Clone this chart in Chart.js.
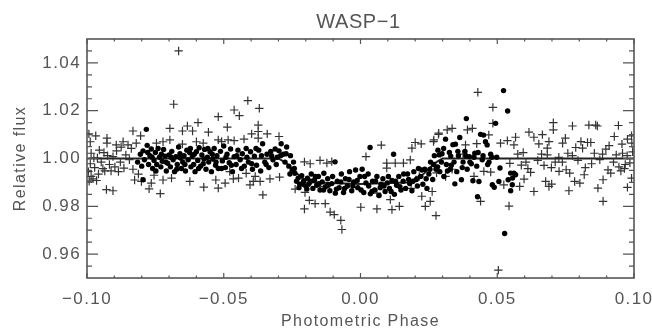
<!DOCTYPE html>
<html>
<head>
<meta charset="utf-8">
<title>WASP-1</title>
<script src="https://cdn.jsdelivr.net/npm/chart.js@4"></script>
<style>
  html, body { margin: 0; padding: 0; background: #fff; overflow: hidden; }
  #wrap { width: 652px; height: 331px; }
  canvas { filter: blur(0.5px); }
</style>
</head>
<body>
<div id="wrap"><canvas id="lightCurve" width="652" height="331"></canvas></div>
<script>
// transit model line
const modelX = [-0.10, -0.05, -0.03, -0.027, -0.024, -0.021, -0.017, 0.00, 0.017, 0.021, 0.024, 0.027, 0.03, 0.05, 0.10];
const modelY = [1.000, 1.000, 1.000, 0.998, 0.9945, 0.9915, 0.990, 0.9893, 0.990, 0.9915, 0.9945, 0.998, 1.000, 1.000, 1.000];

// plus markers, [phase, flux]
const plusPoints = [
  [-0.0665,1.045],[-0.0683,1.0227],[-0.052,1.0175],[-0.0993,1.0103],[-0.0968,1.0095],[-0.0988,1.007],[-0.0927,1.0085],[-0.0927,1.0064],
  [-0.0893,1.0057],[-0.0868,1.007],[-0.085,1.0057],[-0.082,1.0064],[-0.0832,1.0115],[-0.0804,1.0095],[-0.0697,1.0126],[-0.0697,1.0078],
  [-0.0651,1.0115],[-0.0633,1.0136],[-0.0614,1.0115],[-0.0594,1.015],[-0.0556,1.011],[-0.06,1.007],[-0.0575,1.0064],[-0.0651,1.006],
  [-0.0746,1.0064],[-0.0722,1.007],[-0.052,1.0078],[-0.0929,0.987],[-0.0905,0.9865],[-0.0732,0.9853],[-0.0573,0.988],[-0.052,0.9876],
  [-0.0773,0.9873],[-0.0765,0.9897],[-0.0826,0.991],[-0.0801,0.9904],[-0.0624,0.9904],[-0.0529,0.991],[-0.0691,0.9918],[-0.0722,0.991],
  [-0.0992,0.9905],[-0.0985,0.9925],[-0.0995,0.9945],[-0.0978,0.9915],[-0.0965,0.9908],[-0.0958,0.9935],[-0.0972,0.9962],[-0.0988,0.9978],
  [-0.0962,1.0002],[-0.0948,0.9985],[-0.0955,1.0035],[-0.0938,1.0025],[-0.0942,0.9958],[-0.0925,1.0012],[-0.0918,0.9975],[-0.0912,0.9948],
  [-0.0905,1.0008],[-0.0898,0.9965],[-0.0885,0.9945],[-0.0878,0.9985],[-0.0865,0.996],[-0.0858,1.0015],[-0.0845,0.9995],[-0.0832,0.9955],
  [-0.0985,1.0022],[-0.0975,1.0002],[-0.0935,0.9948],[-0.0892,1.0032],[-0.0875,1.0048],[-0.0838,1.0042],[-0.0812,0.9935],[-0.0755,0.993],
  [-0.0412,1.0242],[-0.0462,1.0203],[-0.0443,1.0179],[-0.037,1.021],[-0.0487,1.0131],[-0.0374,1.014],[-0.0398,1.0103],[-0.0374,1.0113],
  [-0.0341,1.0103],[-0.0374,1.0085],[-0.0298,1.0092],[-0.0426,1.0081],[-0.0462,1.0075],[-0.0484,1.0078],[-0.0508,1.0071],[-0.0357,0.9848],
  [-0.0296,0.9922],[-0.0331,0.9915],[-0.0367,0.9904],[-0.0392,0.9904],[-0.0404,0.989],[-0.0446,0.9918],[-0.0465,0.9915],[-0.0495,0.9897],
  [-0.0205,0.9789],[-0.0187,0.9825],[-0.0166,0.9811],[-0.0129,0.9811],[-0.0111,0.9776],[-0.0096,0.9765],[-0.0072,0.9741],[-0.0068,0.9703],
  [0.0001,0.9796],[0.006,0.9789],[0.0115,0.9786],[0.0142,0.98],[0.0224,0.9842],[0.0237,0.98],[0.0255,0.9821],[0.0276,0.9761],
  [0.0076,1.0056],[0.002,1.0008],[-0.0148,0.9992],[-0.0205,0.9986],[-0.0184,0.9978],[-0.0123,0.9981],[-0.0105,0.9987],[0.0096,0.9981],
  [0.0096,0.996],[0.0127,0.9981],[0.0188,1.0043],[0.02,1.0067],[0.0222,1.0061],[0.0267,1.0071],[0.0285,1.0101],[0.0182,0.9994],
  [0.0157,0.9981],[-0.0203,0.9858],[-0.0199,0.9883],[-0.0239,0.9872],[-0.0148,0.9883],[0.0109,0.9828],[0.006,0.9855],[0.0185,0.9875],
  [0.0429,1.0277],[0.0484,1.0214],[0.0484,1.0147],[0.0504,0.9533],[0.0439,0.9821],[0.0543,0.9801],[0.0705,1.015],[0.0705,1.012],
  [0.0775,1.0136],[0.0835,1.014],[0.086,1.014],[0.0866,1.0136],[0.0943,1.0138],[0.0616,1.011],[0.0634,1.0089],[0.0665,1.01],
  [0.0652,1.0061],[0.0689,1.0071],[0.0683,1.0043],[0.0683,1.0015],[0.0749,1.0085],[0.0739,1.0064],[0.0787,1.0046],[0.0806,1.0071],
  [0.083,1.0067],[0.0842,1.0067],[0.0812,1.0043],[0.0855,1.0022],[0.0897,1.0039],[0.0909,1.0054],[0.0928,1.0092],[0.0956,1.006],
  [0.0976,1.0081],[0.0991,1.0095],[0.0992,1.0064],[0.0958,1.0022],[0.0634,0.9862],[0.0677,0.9904],[0.0689,0.9883],[0.0699,0.9893],
  [0.0762,0.9865],[0.0783,0.9904],[0.0802,0.9897],[0.0868,0.9876],[0.0887,0.9821],[0.0887,0.9911],[0.0915,0.9939],[0.0976,0.9879],
  [0.0991,0.9918],[0.0818,0.9932],[0.0752,0.9953],[0.0765,0.9939],[0.0726,0.9946],[0.0671,0.9971],[0.0622,0.9942],[0.0598,0.9914],
  [0.0582,0.9883],[0.0524,0.989],[0.0546,0.998],[0.0567,1.0089],[0.0537,1.0075],[0.0561,1.0057],[0.0512,1.0064],[0.0469,1.0099],
  [0.0409,1.0126],[0.0391,1.012],[0.0384,1.0057],[0.0335,1.0126],[0.0317,1.012],[0.0286,1.0106],[0.0268,1.0078],[0.0451,0.9946],
  [0.0476,0.9943],[0.0415,0.9925],[0.0311,0.9925],[0.0262,0.9862],[0.0595,1.0025],[0.0605,0.9985],[0.0648,0.9992],[0.0725,1.0005],
  [0.0738,0.9985],[0.0775,1.0012],[0.0795,0.9992],[0.0845,0.9978],[0.0875,0.9995],[0.0925,0.9985],[0.0945,0.9965],[0.0968,0.9975],
  [0.0985,0.9982],[0.0935,1.0015],[0.0885,1.0018],[0.0335,0.9955],[0.0375,1.0018],[0.0425,1.0062],[0.0278,0.994],[0.0215,0.9925],
  [0.0575,1.0018],[0.0588,0.9972],[0.0612,0.9958],[0.0662,1.0018],[0.0698,0.9962],[0.0712,0.9985],[0.0758,1.0022],[0.0822,0.9962],
  [0.0905,0.9952],[0.0952,0.9948],[0.0965,0.9958],[0.0975,1.0012],[0.0995,1.0028],[-0.0478,0.9945],[-0.0418,0.9938],[-0.0385,0.9925]
];

// filled circles, [phase, flux]
const dotPoints = [
  [-0.0783,1.0122],[-0.0795,0.9911],[-0.0815,0.9985],[-0.0805,1.0018],[-0.08,0.9968],[-0.0795,1.0032],[-0.079,0.9995],[-0.078,1.0055],
  [-0.0775,0.9975],[-0.077,1.0012],[-0.0765,1.004],[-0.076,0.9958],[-0.0755,0.9992],[-0.075,1.0025],[-0.0745,0.9975],[-0.074,1.0042],
  [-0.0735,1.0005],[-0.073,0.9965],[-0.0725,0.9988],[-0.072,1.0038],[-0.0715,1.001],[-0.071,0.9948],[-0.0705,0.998],[-0.07,1.0015],
  [-0.0695,0.9965],[-0.069,1.003],[-0.0685,0.9995],[-0.068,0.9945],[-0.0675,1.0008],[-0.067,0.9975],[-0.0665,1.0048],[-0.066,1.002],
  [-0.0655,0.9958],[-0.065,0.9985],[-0.0645,1.0012],[-0.064,0.9948],[-0.0635,1.0035],[-0.063,0.9995],[-0.0625,1.0025],[-0.062,0.9965],
  [-0.0615,1.001],[-0.061,0.9975],[-0.0605,0.9945],[-0.06,1.0028],[-0.0595,0.9992],[-0.059,1.0045],[-0.0585,0.9968],[-0.058,1.0015],
  [-0.0575,0.9978],[-0.057,1.0038],[-0.0565,0.9955],[-0.056,1.0005],[-0.0555,0.9985],[-0.055,1.0028],[-0.0545,0.9945],[-0.054,0.9998],
  [-0.0535,1.0042],[-0.053,0.9972],[-0.0525,1.0012],[-0.052,0.9958],[-0.0512,1.003],[-0.0505,0.999],[-0.05,1.0052],[-0.0494,0.9962],
  [-0.0488,1.0018],[-0.048,0.9982],[-0.0475,1.004],[-0.0468,0.9945],[-0.0462,1.0008],[-0.0455,0.9975],[-0.0448,1.0035],[-0.044,0.9995],
  [-0.0432,1.002],[-0.0425,0.9968],[-0.0418,1.0042],[-0.041,0.9985],[-0.0402,1.0028],[-0.0395,0.9955],[-0.0388,1.001],[-0.038,0.9972],
  [-0.0372,1.0035],[-0.0365,0.9948],[-0.0358,1.0062],[-0.035,0.9985],[-0.0342,1.0018],[-0.0335,0.9962],[-0.0328,1.003],[-0.032,0.9995],
  [-0.0312,1.004],[-0.0305,1.0005],[-0.0298,1.0032],[-0.029,1.0062],[-0.0282,1.0018],[-0.0276,0.9985],[-0.027,1.0048],[-0.0262,0.9968],
  [-0.0256,1.0012],[-0.025,0.9952],[-0.0245,0.9985],[-0.024,0.9938],[-0.0234,0.9905],[-0.0228,0.9918],[-0.0222,0.9892],[-0.0215,0.9928],
  [-0.0208,0.9905],[-0.02,0.9885],[-0.0194,0.9918],[-0.0188,0.9895],[-0.018,0.9935],[-0.0174,0.9875],[-0.0168,0.991],[-0.016,0.9888],
  [-0.0154,0.9925],[-0.0148,0.9868],[-0.014,0.9902],[-0.0134,0.9938],[-0.0128,0.9882],[-0.012,0.9915],[-0.0112,0.9865],[-0.0105,0.9895],
  [-0.0093,0.9986],[-0.0092,0.9855],[-0.0085,0.9905],[-0.0078,0.9878],[-0.007,0.9935],[-0.0062,0.9858],[-0.0055,0.9915],[-0.0048,0.9885],
  [-0.004,0.9945],[-0.0032,0.9865],[-0.0025,0.9902],[-0.0018,0.9952],[-0.001,0.9878],[-0.0002,0.9925],[0.0006,0.9955],[0.0012,0.9858],
  [0.002,0.9898],[0.0028,0.9935],[0.0035,1.0046],[0.0036,0.9852],[0.0044,0.9905],[0.0052,0.9868],[0.006,0.9925],[0.0068,0.9845],
  [0.0075,0.9892],[0.0082,0.9915],[0.009,0.9862],[0.0098,0.9898],[0.0106,0.9875],[0.0121,1.0018],[0.0115,0.9908],[0.0124,0.985],
  [0.0132,0.9888],[0.014,0.9925],[0.0148,0.9868],[0.0156,0.9905],[0.0165,0.9875],[0.0172,0.9935],[0.018,0.9895],[0.0188,0.9865],
  [0.0195,0.9945],[0.0204,0.9912],[0.0212,0.9958],[0.022,0.9925],[0.0228,0.9892],[0.0235,0.9955],[0.0243,0.9875],[0.025,0.9935],
  [0.0256,0.9985],[0.0264,0.9912],[0.027,1.0012],[0.0276,0.9955],[0.0283,1.0035],[0.029,0.9945],[0.0296,0.9985],[0.0304,1.0042],
  [0.0311,1.0081],[0.0318,0.9948],[0.0325,1.0025],[0.0332,0.9972],[0.0338,1.0058],[0.0347,1.006],[0.0345,0.9894],[0.0352,0.9945],
  [0.0358,1.0012],[0.0363,1.0088],[0.0369,0.9911],[0.0375,0.9985],[0.0382,1.003],[0.0387,1.0167],[0.039,0.9955],[0.0398,1.0008],
  [0.0405,0.9978],[0.0411,0.9907],[0.0418,1.0022],[0.0425,0.9968],[0.0428,0.984],[0.0433,0.9904],[0.0439,1.0101],[0.0445,0.9995],
  [0.045,1.0098],[0.0457,1.007],[0.0463,1.0057],[0.047,0.9985],[0.0476,1.0018],[0.0482,0.989],[0.0489,0.988],[0.0494,1.0147],
  [0.0498,1.0005],[0.0506,0.9904],[0.051,0.996],[0.0523,1.0284],[0.0527,0.9686],[0.0538,1.0199],[0.054,0.9911],[0.0549,0.9865],
  [0.0549,0.9939],[0.0555,0.989],[0.0561,0.9938],[0.0567,0.9932],[0.0556,0.9918],[0.0305,0.9925],[0.0328,0.9955],[0.0288,1.0015],
  [-0.0778,1.0025],[-0.0762,1.0005],[-0.0748,0.9948],[-0.0728,1.0018],[-0.0712,0.9985],[-0.0692,1.0005],[-0.0672,0.9955],[-0.0658,1.0002],
  [-0.0642,0.9975],[-0.0622,1.0042],[-0.0608,1.0018],[-0.0592,0.9958],[-0.0572,0.9998],[-0.0558,1.0042],[-0.0542,1.0018],[-0.0528,0.9985],
  [-0.0508,0.9958],[-0.0492,1.0005],[-0.0472,0.9972],[-0.0452,1.0012],[-0.0435,0.9958],[-0.0415,1.0005],[-0.0398,0.9978],[-0.0382,1.0042],
  [-0.0362,1.0012],[-0.0345,0.9975],[-0.0325,1.0012],[-0.0308,0.9975],[-0.0292,1.0012],[-0.0272,1.002],[-0.0258,0.9935],[-0.0242,0.9958],
  [-0.0225,0.9878],[-0.0212,0.9895],[-0.0196,0.9872],[-0.0182,0.9905],[-0.0165,0.9925],[-0.0152,0.9895],[-0.0135,0.9868],[-0.0118,0.9888],
  [-0.0102,0.9925],[-0.0088,0.9872],[-0.0072,0.9902],[-0.0058,0.9875],[-0.0042,0.9912],[-0.0028,0.9885],[-0.0012,0.9908],[0.0002,0.9868],
  [0.0015,0.9925],[0.003,0.9885],[0.0042,0.9862],[0.0055,0.9905],[0.0072,0.9878],[0.0086,0.9885],[0.0102,0.9925],[0.0112,0.9862],
  [0.0128,0.9905],[0.0144,0.9882],[0.0158,0.9935],[0.0176,0.9912],[0.0192,0.9905],[0.0208,0.9885],[0.0224,0.9952],[0.024,0.9915],
  [0.0254,0.9955],[0.0268,0.9975],[0.0282,0.9965],[0.0298,1.002],[0.0314,0.9975],[0.033,1.001],[0.0342,0.9985],[0.0356,1.003],
  [0.0372,0.9962],[0.0385,1.0012],[0.04,0.9985],[0.0415,1.0005],[0.043,1.0025],[0.0448,1.0012],[0.0465,0.9975],[0.048,1.0005]
];

const xMajor = [-0.10, -0.05, 0.00, 0.05, 0.10];
const xMinor = [-0.09, -0.08, -0.07, -0.06, -0.04, -0.03, -0.02, -0.01, 0.01, 0.02, 0.03, 0.04, 0.06, 0.07, 0.08, 0.09];
const yMajor = [0.96, 0.98, 1.00, 1.02, 1.04];
const yMinor = [0.955, 0.965, 0.97, 0.975, 0.985, 0.99, 0.995, 1.005, 1.01, 1.015, 1.025, 1.03, 1.035, 1.045];

const ink = '#555';
const fontName = '"Liberation Sans", Arial, sans-serif';

// IDL style ticks pointing inwards on all four sides, plus the title over the plot centre
const idlTicks = {
  id: 'idlTicks',
  beforeDraw(chart) {
    chart.ctx.letterSpacing = '1.4px';
  },
  afterDraw(chart) {
    const { ctx, chartArea: a, scales } = chart;
    ctx.save();
    ctx.strokeStyle = ink;
    ctx.lineWidth = 1.2;
    ctx.beginPath();
    const xTick = (v, len) => {
      const p = scales.x.getPixelForValue(v);
      ctx.moveTo(p, a.top); ctx.lineTo(p, a.top + len);
      ctx.moveTo(p, a.bottom); ctx.lineTo(p, a.bottom - len);
    };
    const yTick = (v, len) => {
      const p = scales.y.getPixelForValue(v);
      ctx.moveTo(a.left, p); ctx.lineTo(a.left + len, p);
      ctx.moveTo(a.right, p); ctx.lineTo(a.right - len, p);
    };
    xMajor.forEach(v => xTick(v, 5));
    xMinor.forEach(v => xTick(v, 2.5));
    yMajor.forEach(v => yTick(v, 11));
    yMinor.forEach(v => yTick(v, 5));
    ctx.stroke();
    ctx.lineWidth = 1.6;
    ctx.strokeRect(a.left, a.top, a.right - a.left, a.bottom - a.top);

    ctx.letterSpacing = '0.6px';
    ctx.fillStyle = ink;
    ctx.font = '20px ' + fontName;
    ctx.textAlign = 'center';
    ctx.textBaseline = 'middle';
    ctx.fillText('WASP\u22121', scales.x.getPixelForValue(0) - 2, 22);
    ctx.restore();
  }
};

const toXY = p => ({ x: p[0], y: p[1] });

new Chart(document.getElementById('lightCurve').getContext('2d'), {
  type: 'scatter',
  data: {
    datasets: [
      {
        label: 'Model',
        type: 'line',
        data: modelX.map((x, i) => ({ x: x, y: modelY[i] })),
        borderColor: '#222',
        borderWidth: 2,
        pointRadius: 0,
        tension: 0,
        order: 3
      },
      {
        label: 'Plus',
        data: plusPoints.map(toXY),
        pointStyle: 'cross',
        pointRadius: 4.2,
        borderColor: '#333',
        borderWidth: 1.2,
        backgroundColor: 'transparent',
        order: 2
      },
      {
        label: 'Dots',
        data: dotPoints.map(toXY),
        pointStyle: 'circle',
        pointRadius: 2.7,
        borderWidth: 0,
        backgroundColor: '#000',
        order: 1
      }
    ]
  },
  options: {
    responsive: false,
    animation: false,
    layout: { padding: { left: 0, right: 18, top: 39, bottom: 0 } },
    plugins: {
      legend: { display: false },
      tooltip: { enabled: false },
      title: { display: false }
    },
    scales: {
      x: {
        type: 'linear',
        min: -0.10,
        max: 0.10,
        afterFit(scale) { scale.height = 53; scale.paddingRight = 0; scale.paddingLeft = 0; },
        grid: { display: false, drawTicks: false },
        border: { display: false },
        ticks: {
          stepSize: 0.05,
          maxRotation: 0,
          padding: 11,
          color: ink,
          font: { family: fontName, size: 17 },
          callback: v => v.toFixed(2).replace('-', '\u2212')
        },
        title: {
          display: true,
          text: 'Photometric Phase',
          color: ink,
          font: { family: fontName, size: 16 },
          padding: { top: 2, bottom: 0 }
        }
      },
      y: {
        min: 0.95,
        max: 1.05,
        afterFit(scale) { scale.width = 87; },
        afterBuildTicks(scale) { scale.ticks = yMajor.map(v => ({ value: v })); },
        grid: { display: false, drawTicks: false },
        border: { display: false },
        ticks: {
          padding: 6,
          color: ink,
          font: { family: fontName, size: 17 },
          callback: v => v.toFixed(2)
        },
        title: {
          display: true,
          text: 'Relative flux',
          color: ink,
          font: { family: fontName, size: 16 },
          padding: { top: 11, bottom: 0 }
        }
      }
    }
  },
  plugins: [idlTicks]
});
</script>
</body>
</html>
